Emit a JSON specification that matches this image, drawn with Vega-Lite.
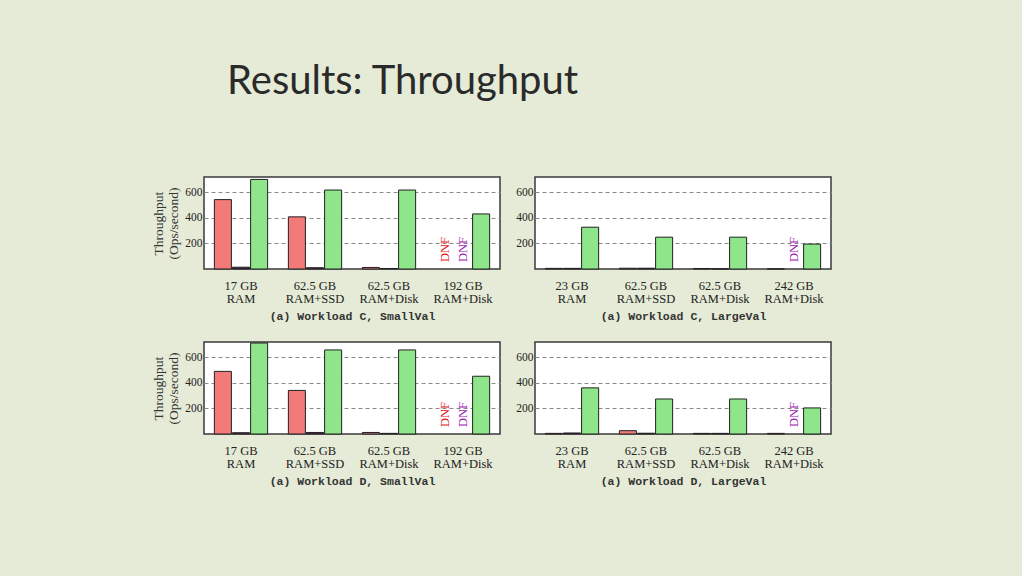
{
  "$schema": "https://vega.github.io/schema/vega-lite/v6.json",
  "background": "#e5ebd6",
  "padding": {"left": 151, "top": 62, "right": 190, "bottom": 122},
  "title": {
    "text": "Results: Throughput",
    "anchor": "start",
    "frame": "bounds",
    "dx": 76,
    "offset": 42,
    "baseline": "alphabetic",
    "font": "Lato",
    "fontSize": 40,
    "fontWeight": "normal",
    "color": "#2a2a2a"
  },
  "data": {
    "values": [
      {"panel": "C-Small", "cfg": "17 GB|RAM", "sys": "s1", "value": 543, "dnf": false},
      {"panel": "C-Small", "cfg": "17 GB|RAM", "sys": "s2", "value": 14, "dnf": false},
      {"panel": "C-Small", "cfg": "17 GB|RAM", "sys": "s3", "value": 701, "dnf": false},
      {"panel": "C-Small", "cfg": "62.5 GB|RAM+SSD", "sys": "s1", "value": 408, "dnf": false},
      {"panel": "C-Small", "cfg": "62.5 GB|RAM+SSD", "sys": "s2", "value": 10, "dnf": false},
      {"panel": "C-Small", "cfg": "62.5 GB|RAM+SSD", "sys": "s3", "value": 618, "dnf": false},
      {"panel": "C-Small", "cfg": "62.5 GB|RAM+Disk", "sys": "s1", "value": 12, "dnf": false},
      {"panel": "C-Small", "cfg": "62.5 GB|RAM+Disk", "sys": "s2", "value": 4, "dnf": false},
      {"panel": "C-Small", "cfg": "62.5 GB|RAM+Disk", "sys": "s3", "value": 618, "dnf": false},
      {"panel": "C-Small", "cfg": "192 GB|RAM+Disk", "sys": "s1", "value": 0, "dnf": true},
      {"panel": "C-Small", "cfg": "192 GB|RAM+Disk", "sys": "s2", "value": 0, "dnf": true},
      {"panel": "C-Small", "cfg": "192 GB|RAM+Disk", "sys": "s3", "value": 431, "dnf": false},

      {"panel": "C-Large", "cfg": "23 GB|RAM", "sys": "s1", "value": 5, "dnf": false},
      {"panel": "C-Large", "cfg": "23 GB|RAM", "sys": "s2", "value": 5, "dnf": false},
      {"panel": "C-Large", "cfg": "23 GB|RAM", "sys": "s3", "value": 327, "dnf": false},
      {"panel": "C-Large", "cfg": "62.5 GB|RAM+SSD", "sys": "s1", "value": 6, "dnf": false},
      {"panel": "C-Large", "cfg": "62.5 GB|RAM+SSD", "sys": "s2", "value": 6, "dnf": false},
      {"panel": "C-Large", "cfg": "62.5 GB|RAM+SSD", "sys": "s3", "value": 249, "dnf": false},
      {"panel": "C-Large", "cfg": "62.5 GB|RAM+Disk", "sys": "s1", "value": 4, "dnf": false},
      {"panel": "C-Large", "cfg": "62.5 GB|RAM+Disk", "sys": "s2", "value": 1, "dnf": false},
      {"panel": "C-Large", "cfg": "62.5 GB|RAM+Disk", "sys": "s3", "value": 249, "dnf": false},
      {"panel": "C-Large", "cfg": "242 GB|RAM+Disk", "sys": "s1", "value": 1, "dnf": false},
      {"panel": "C-Large", "cfg": "242 GB|RAM+Disk", "sys": "s2", "value": 0, "dnf": true},
      {"panel": "C-Large", "cfg": "242 GB|RAM+Disk", "sys": "s3", "value": 195, "dnf": false},

      {"panel": "D-Small", "cfg": "17 GB|RAM", "sys": "s1", "value": 490, "dnf": false},
      {"panel": "D-Small", "cfg": "17 GB|RAM", "sys": "s2", "value": 10, "dnf": false},
      {"panel": "D-Small", "cfg": "17 GB|RAM", "sys": "s3", "value": 712, "dnf": false},
      {"panel": "D-Small", "cfg": "62.5 GB|RAM+SSD", "sys": "s1", "value": 341, "dnf": false},
      {"panel": "D-Small", "cfg": "62.5 GB|RAM+SSD", "sys": "s2", "value": 12, "dnf": false},
      {"panel": "D-Small", "cfg": "62.5 GB|RAM+SSD", "sys": "s3", "value": 658, "dnf": false},
      {"panel": "D-Small", "cfg": "62.5 GB|RAM+Disk", "sys": "s1", "value": 12, "dnf": false},
      {"panel": "D-Small", "cfg": "62.5 GB|RAM+Disk", "sys": "s2", "value": 5, "dnf": false},
      {"panel": "D-Small", "cfg": "62.5 GB|RAM+Disk", "sys": "s3", "value": 658, "dnf": false},
      {"panel": "D-Small", "cfg": "192 GB|RAM+Disk", "sys": "s1", "value": 0, "dnf": true},
      {"panel": "D-Small", "cfg": "192 GB|RAM+Disk", "sys": "s2", "value": 0, "dnf": true},
      {"panel": "D-Small", "cfg": "192 GB|RAM+Disk", "sys": "s3", "value": 452, "dnf": false},

      {"panel": "D-Large", "cfg": "23 GB|RAM", "sys": "s1", "value": 5, "dnf": false},
      {"panel": "D-Large", "cfg": "23 GB|RAM", "sys": "s2", "value": 8, "dnf": false},
      {"panel": "D-Large", "cfg": "23 GB|RAM", "sys": "s3", "value": 361, "dnf": false},
      {"panel": "D-Large", "cfg": "62.5 GB|RAM+SSD", "sys": "s1", "value": 26, "dnf": false},
      {"panel": "D-Large", "cfg": "62.5 GB|RAM+SSD", "sys": "s2", "value": 6, "dnf": false},
      {"panel": "D-Large", "cfg": "62.5 GB|RAM+SSD", "sys": "s3", "value": 274, "dnf": false},
      {"panel": "D-Large", "cfg": "62.5 GB|RAM+Disk", "sys": "s1", "value": 5, "dnf": false},
      {"panel": "D-Large", "cfg": "62.5 GB|RAM+Disk", "sys": "s2", "value": 5, "dnf": false},
      {"panel": "D-Large", "cfg": "62.5 GB|RAM+Disk", "sys": "s3", "value": 274, "dnf": false},
      {"panel": "D-Large", "cfg": "242 GB|RAM+Disk", "sys": "s1", "value": 5, "dnf": false},
      {"panel": "D-Large", "cfg": "242 GB|RAM+Disk", "sys": "s2", "value": 0, "dnf": true},
      {"panel": "D-Large", "cfg": "242 GB|RAM+Disk", "sys": "s3", "value": 204, "dnf": false}
    ]
  },
  "vconcat": [
    {
      "hconcat": [
        {
          "width": 296, "height": 92,
          "transform": [{"filter": "datum.panel == 'C-Small'"}],
          "encoding": {
            "x": {"field": "cfg", "type": "nominal", "sort": null, "scale": {"paddingInner": 0.28, "paddingOuter": 0.14},
                  "axis": {"title": "(a) Workload C, SmallVal"}},
            "xOffset": {"field": "sys", "type": "nominal", "scale": {"domain": ["s1", "s2", "s3"], "paddingInner": 0.06}},
            "y": {"field": "value", "type": "quantitative", "scale": {"domain": [0, 720], "nice": false},
                  "axis": {"values": [200, 400, 600], "title": ["Throughput", "(Ops/second)"]}}
          },
          "layer": [
            {"transform": [{"filter": "!datum.dnf"}],
             "mark": {"type": "bar", "stroke": "#222", "strokeWidth": 1},
             "encoding": {"fill": {"field": "sys", "type": "nominal", "legend": null,
                          "scale": {"domain": ["s1", "s2", "s3"], "range": ["#f47a7a", "#4a2050", "#8fe68a"]}}}},
            {"transform": [{"filter": "datum.dnf"}],
             "mark": {"type": "text", "angle": 270, "align": "left", "baseline": "middle", "font": "Liberation Serif", "fontSize": 12.5},
             "encoding": {"y": {"datum": 55},
                          "color": {"condition": {"test": "datum.sys == 's1'", "value": "#e8141c"}, "value": "#a020b0"},
                          "text": {"value": "DNF"}}}
          ]
        },
        {
          "width": 296, "height": 92,
          "transform": [{"filter": "datum.panel == 'C-Large'"}],
          "encoding": {
            "x": {"field": "cfg", "type": "nominal", "sort": null, "scale": {"paddingInner": 0.28, "paddingOuter": 0.14},
                  "axis": {"title": "(a) Workload C, LargeVal"}},
            "xOffset": {"field": "sys", "type": "nominal", "scale": {"domain": ["s1", "s2", "s3"], "paddingInner": 0.06}},
            "y": {"field": "value", "type": "quantitative", "scale": {"domain": [0, 720], "nice": false},
                  "axis": {"values": [200, 400, 600], "title": null}}
          },
          "layer": [
            {"transform": [{"filter": "!datum.dnf"}],
             "mark": {"type": "bar", "stroke": "#222", "strokeWidth": 1},
             "encoding": {"fill": {"field": "sys", "type": "nominal", "legend": null,
                          "scale": {"domain": ["s1", "s2", "s3"], "range": ["#f47a7a", "#4a2050", "#8fe68a"]}}}},
            {"transform": [{"filter": "datum.dnf"}],
             "mark": {"type": "text", "angle": 270, "align": "left", "baseline": "middle", "font": "Liberation Serif", "fontSize": 12.5},
             "encoding": {"y": {"datum": 55},
                          "color": {"condition": {"test": "datum.sys == 's1'", "value": "#e8141c"}, "value": "#a020b0"},
                          "text": {"value": "DNF"}}}
          ]
        }
      ]
    },
    {
      "hconcat": [
        {
          "width": 296, "height": 92,
          "transform": [{"filter": "datum.panel == 'D-Small'"}],
          "encoding": {
            "x": {"field": "cfg", "type": "nominal", "sort": null, "scale": {"paddingInner": 0.28, "paddingOuter": 0.14},
                  "axis": {"title": "(a) Workload D, SmallVal"}},
            "xOffset": {"field": "sys", "type": "nominal", "scale": {"domain": ["s1", "s2", "s3"], "paddingInner": 0.06}},
            "y": {"field": "value", "type": "quantitative", "scale": {"domain": [0, 720], "nice": false},
                  "axis": {"values": [200, 400, 600], "title": ["Throughput", "(Ops/second)"]}}
          },
          "layer": [
            {"transform": [{"filter": "!datum.dnf"}],
             "mark": {"type": "bar", "stroke": "#222", "strokeWidth": 1},
             "encoding": {"fill": {"field": "sys", "type": "nominal", "legend": null,
                          "scale": {"domain": ["s1", "s2", "s3"], "range": ["#f47a7a", "#4a2050", "#8fe68a"]}}}},
            {"transform": [{"filter": "datum.dnf"}],
             "mark": {"type": "text", "angle": 270, "align": "left", "baseline": "middle", "font": "Liberation Serif", "fontSize": 12.5},
             "encoding": {"y": {"datum": 55},
                          "color": {"condition": {"test": "datum.sys == 's1'", "value": "#e8141c"}, "value": "#a020b0"},
                          "text": {"value": "DNF"}}}
          ]
        },
        {
          "width": 296, "height": 92,
          "transform": [{"filter": "datum.panel == 'D-Large'"}],
          "encoding": {
            "x": {"field": "cfg", "type": "nominal", "sort": null, "scale": {"paddingInner": 0.28, "paddingOuter": 0.14},
                  "axis": {"title": "(a) Workload D, LargeVal"}},
            "xOffset": {"field": "sys", "type": "nominal", "scale": {"domain": ["s1", "s2", "s3"], "paddingInner": 0.06}},
            "y": {"field": "value", "type": "quantitative", "scale": {"domain": [0, 720], "nice": false},
                  "axis": {"values": [200, 400, 600], "title": null}}
          },
          "layer": [
            {"transform": [{"filter": "!datum.dnf"}],
             "mark": {"type": "bar", "stroke": "#222", "strokeWidth": 1},
             "encoding": {"fill": {"field": "sys", "type": "nominal", "legend": null,
                          "scale": {"domain": ["s1", "s2", "s3"], "range": ["#f47a7a", "#4a2050", "#8fe68a"]}}}},
            {"transform": [{"filter": "datum.dnf"}],
             "mark": {"type": "text", "angle": 270, "align": "left", "baseline": "middle", "font": "Liberation Serif", "fontSize": 12.5},
             "encoding": {"y": {"datum": 55},
                          "color": {"condition": {"test": "datum.sys == 's1'", "value": "#e8141c"}, "value": "#a020b0"},
                          "text": {"value": "DNF"}}}
          ]
        }
      ]
    }
  ],
  "spacing": 18,
  "config": {
    "view": {"fill": "white", "stroke": "#3a3a3a", "strokeWidth": 1.5},
    "concat": {"spacing": 14},
    "axisX": {
      "labelExpr": "split(datum.label, '|')",
      "labelAngle": 0, "labelFont": "Liberation Serif", "labelFontSize": 12.5, "labelColor": "#222",
      "labelLineHeight": 13, "labelPadding": 10, "ticks": false, "domain": false,
      "titleFont": "Liberation Mono", "titleFontSize": 11.5, "titleFontWeight": "bold", "titleColor": "#333", "titlePadding": 6
    },
    "axisY": {
      "grid": true, "gridDash": [4, 3], "gridColor": "#8a8a8a", "gridWidth": 1,
      "ticks": false, "domain": false, "labelFont": "Liberation Serif", "labelFontSize": 11.5, "labelColor": "#222",
      "labelPadding": 2, "titleFont": "Liberation Serif", "titleFontSize": 13.5, "titleFontWeight": "normal",
      "titleColor": "#333", "titlePadding": 4, "titleLineHeight": 15
    }
  }
}
